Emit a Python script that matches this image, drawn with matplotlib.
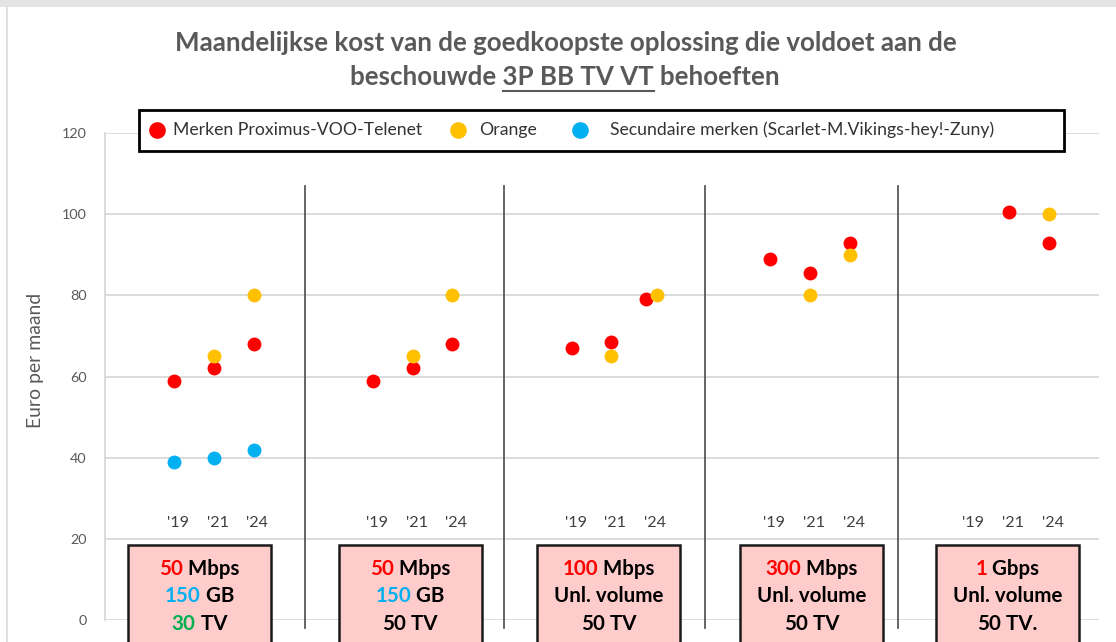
import matplotlib
matplotlib.use("Agg")
import matplotlib.pyplot as plt
from matplotlib.patches import Rectangle
from matplotlib.lines import Line2D

# ---------------- data ----------------
years = ["'19", "'21", "'24"]
series_names = ["Merken Proximus-VOO-Telenet", "Orange",
                "Secundaire merken (Scarlet-M.Vikings-hey!-Zuny)"]
# values per profile, per year ('19, '21, '24); None = no offer
proximus = [[59, 62, 68], [59, 62, 68], [67, 68.5, 79], [89, 85.5, 93], [None, 100.5, 93]]
orange = [[None, 65, 80], [None, 65, 80], [None, 65, 80], [None, 80, 90], [None, None, 100]]
secundair = [[39, 40, 42], [None, None, None], [None, None, None],
             [None, None, None], [None, None, None]]

speed_num = ["50", "50", "100", "300", "1"]
speed_unit = ["Mbps", "Mbps", "Mbps", "Mbps", "Gbps"]
volume_num = ["150", "150", "", "", ""]
volume_txt = ["GB", "GB", "Unl. volume", "Unl. volume", "Unl. volume"]
tv_num = ["30", "50", "50", "50", "50"]
tv_txt = ["TV", "TV", "TV", "TV", "TV."]

title1 = "Maandelijkse kost van de goedkoopste oplossing die voldoet aan de"
title2_parts = ["beschouwde", "3P BB TV VT", "behoeften"]
ylabel = "Euro per maand"
yticks = [0, 20, 40, 60, 80, 100, 120]

# ---------------- style ----------------
RED, ORANGE, BLUE, GREEN = "#FF0000", "#FFC000", "#00B0F0", "#00B050"
GRAY = "#595959"
FONT = "Lato"
W, H = 1116, 642
NUDGE = {(2, 2): {"prox": -0.12, "orange": 0.16}}
box_centers = [0.64, 5.94, 10.93, 16.03, 20.96]
sep_x = [3.3, 8.3, 13.35, 18.2]
vol_color = [BLUE, BLUE, "black", "black", "black"]
tv_color = [GREEN, "black", "black", "black", "black"]

plt.rcParams["font.family"] = [FONT, "DejaVu Sans"]
fig = plt.figure(figsize=(W / 100, H / 100), dpi=100)
renderer = fig.canvas.get_renderer()


def twidth(s, size, **kw):
    t = fig.text(0, 0, s, fontsize=size, **kw)
    w = t.get_window_extent(renderer).width
    t.remove()
    return w


def fit(s, target, **kw):
    return 20 * target / twidth(s, 20, **kw)


def fx(px):
    return px / W


def fy(py_top):
    return (H - py_top) / H


# outer chart frame
fig.add_artist(Rectangle((0, fy(7)), 1, 7 / H, transform=fig.transFigure,
                         facecolor="#e4e4e4", edgecolor="none", zorder=0))
fig.add_artist(Line2D([fx(7), fx(7)], [0, fy(7)], transform=fig.transFigure,
                      color="#d9d9d9", lw=1.2))

ax = fig.add_axes([105 / W, 22 / H, 994 / W, 487 / H])
ax.set_xlim(-1.735, 23.265)
ax.set_ylim(0, 120)
ax.set_xticks([])
ax.set_yticks(yticks)
tick_size = fit("120", 25)
ax.set_yticklabels([str(v) for v in yticks], fontsize=tick_size, color=GRAY)
ax.tick_params(axis="y", length=0, pad=13)
ax.yaxis.grid(True, color="#d9d9d9", lw=1.3)
ax.set_axisbelow(True)
for s in ["top", "right", "bottom"]:
    ax.spines[s].set_visible(False)
ax.spines["left"].set_color("#d9d9d9")
ax.spines["left"].set_linewidth(1.3)

fig.text(fx(35), fy(360), ylabel, rotation=90, ha="center", va="center",
         fontsize=fit(ylabel, 135), color=GRAY)

# points
ms = 10
for g in range(5):
    for k in range(3):
        x = 5 * g + k
        nd = NUDGE.get((g, k), {})
        if secundair[g][k] is not None:
            ax.plot(x, secundair[g][k], "o", color=BLUE, ms=ms, mec="none", zorder=3)
        if proximus[g][k] is not None:
            ax.plot(x + nd.get("prox", 0), proximus[g][k], "o", color=RED, ms=ms,
                    mec="none", zorder=3)
        if orange[g][k] is not None:
            ax.plot(x + nd.get("orange", 0), orange[g][k], "o", color=ORANGE, ms=ms,
                    mec="none", zorder=4)

# year labels
ysize = fit("'19", 22)
for g in range(5):
    for k in range(3):
        ax.text(5 * g + k + 0.1, 23.9, years[k], ha="center", va="center",
                fontsize=ysize, color="#404040")

# separators
for sx in sep_x:
    ax.plot([sx, sx], [107, -2], color="#595959", lw=1.3, clip_on=False, zorder=2)

# pink boxes with multi-coloured text
bsize = fit("Unl. volume", 109, fontweight="bold")


def multi(cx_px, cy_px, parts, size):
    full = "".join(p for p, _ in parts)
    wf = twidth(full, size, fontweight="bold")
    left = cx_px - wf / 2
    acc = ""
    for s, c in parts:
        acc += s
        right = left + twidth(acc, size, fontweight="bold")
        fig.text(right / W, cy_px / H, s, ha="right", va="center", fontsize=size,
                 fontweight="bold", color=c, zorder=6)


for g in range(5):
    c = box_centers[g]
    ax.add_patch(Rectangle((c - 1.8, 18.5), 3.6, -30, facecolor="#FFCCCC",
                           edgecolor="#1a1a1a", lw=1.8, clip_on=False, zorder=5))
    cx_px = ax.transData.transform((c, 0))[0]
    y1 = ax.transData.transform((0, 12.6))[1]
    y2 = ax.transData.transform((0, 5.8))[1]
    y3 = ax.transData.transform((0, -0.9))[1]
    multi(cx_px, y1, [(speed_num[g], RED), (" " + speed_unit[g], "black")], bsize)
    if volume_num[g]:
        multi(cx_px, y2, [(volume_num[g], vol_color[g]), (" " + volume_txt[g], "black")], bsize)
    else:
        multi(cx_px, y2, [(volume_txt[g], "black")], bsize)
    multi(cx_px, y3, [(tv_num[g], tv_color[g]), (" " + tv_txt[g], "black")], bsize)

# title
tsize = fit(title1, 781, fontweight="bold")
fig.text(fx(566), fy(43), title1, ha="center", va="center", fontsize=tsize,
         fontweight="bold", color=GRAY)
line2 = " ".join(title2_parts)
w2 = twidth(line2, tsize, fontweight="bold")
cx2 = 565
fig.text(fx(cx2), fy(77), line2, ha="center", va="center", fontsize=tsize,
         fontweight="bold", color=GRAY)
left2 = cx2 - w2 / 2
mid_right = left2 + twidth(title2_parts[0] + " " + title2_parts[1], tsize, fontweight="bold")
mid_left = mid_right - twidth(title2_parts[1], tsize, fontweight="bold")
fig.add_artist(Line2D([fx(mid_left), fx(mid_right)], [fy(91), fy(91)],
                      transform=fig.transFigure, color=GRAY, lw=1.5))

# legend
fig.add_artist(Rectangle((fx(139), fy(151)), 925 / W, 41 / H, transform=fig.transFigure,
                         facecolor="white", edgecolor="black", lw=2, zorder=5))
lsize = fit(series_names[0], 250)
leg = [(157, 173, RED), (458, 479, ORANGE), (580, 610, BLUE)]
for (mx, tx, col), name in zip(leg, series_names):
    fig.add_artist(Line2D([fx(mx)], [fy(130)], transform=fig.transFigure, marker="o",
                          color=col, ms=12, mec="none", ls="none", zorder=6))
    fig.text(fx(tx), fy(130), name, ha="left", va="center", fontsize=lsize,
             color="#333333", zorder=6)

fig.savefig("out.png", dpi=100)
